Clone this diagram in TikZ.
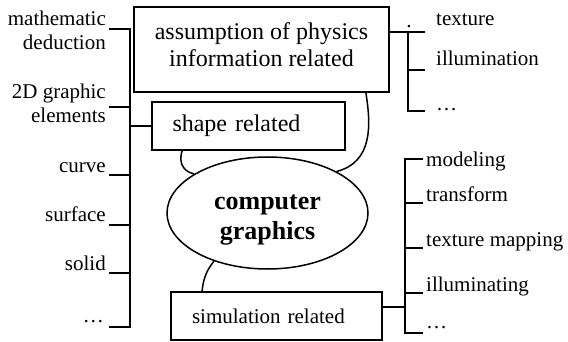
\documentclass[tikz,border=0pt]{standalone}
\usepackage{fontspec}
\setmainfont{Liberation Serif}
\usetikzlibrary{positioning, shapes.geometric}

\begin{document}
\begin{tikzpicture}[
    x=1pt, y=-1pt,
    topicbox/.style={draw=black, line width=1.8pt, rectangle, inner sep=0pt},
    hub/.style={draw=black, line width=1.5pt, ellipse, minimum width=201pt, minimum height=112pt, inner sep=0pt, align=center, text height=58pt, text depth=6pt, font=\fontsize{26}{29}\selectfont\bfseries},
    bracket/.style={line width=1.8pt},
    link/.style={line width=1.5pt},
    itemlabel/.style={inner sep=0pt, font=\fontsize{21}{24}\selectfont}
]
\useasboundingbox (0,0) rectangle (568,342);

% Knoten
\node[topicbox, minimum width=255pt, minimum height=85pt, align=center, text depth=10pt, font=\fontsize{24}{27}\selectfont] (phys) at (261.5,49.5) {assumption of physics\\information related};
\node[topicbox, minimum width=193pt, minimum height=48pt, text width=152pt, inner xsep=20.5pt, align=left, font=\fontsize{24}{27}\selectfont] (shape) at (248.5,126) {shape related};
\node[hub] (cg) at (267.5,213) {computer\\graphics};
\node[topicbox, minimum width=211pt, minimum height=48pt, text width=169pt, inner xsep=21pt, align=left, font=\fontsize{21}{24}\selectfont] (sim) at (276.5,316) {simulation related};

% Klammer links
\foreach \y [count=\i] in {29,107,175,225,273,327} {
    \coordinate (lt\i) at (109,\y);
    \coordinate (ls\i) at (130,\y);
}
\draw[bracket] (lt1) -- (ls1) -- (ls6) -- (lt6);
\foreach \i in {2,...,5} \draw[bracket] (lt\i) -- (ls\i);
\draw[bracket] (ls1 |- shape.west) -- (shape.west);

\node[itemlabel, anchor=base east, align=right] (math) at (106,50) {mathematic\\deduction};
\node[itemlabel, anchor=base east, align=right] (elem) at (106,123) {2D graphic\\elements};
\node[itemlabel, anchor=base east] (curve) at (106,173) {curve};
\node[itemlabel, anchor=base east] (surf) at (106,222) {surface};
\node[itemlabel, anchor=base east] (solid) at (106,270) {solid};
\node[itemlabel, anchor=base east] (lmore) at (104,322) {\dots};

% Klammer rechts oben
\foreach \y [count=\i] in {32,70,111} {
    \coordinate (rs\i) at (408,\y);
    \coordinate (rt\i) at (425,\y);
}
\draw[bracket] (phys.east |- rs1) -- (rt1);
\draw[bracket] (rs1) -- (rs3) -- (rt3);
\draw[bracket] (rs2) -- (rt2);

\node[itemlabel, anchor=base] (stray) at (409,28) {.};
\node[itemlabel, anchor=base west] (tex) at (436,26) {texture};
\node[itemlabel, anchor=base west] (illum) at (436,66) {illumination};
\node[itemlabel, anchor=base west] (rmore) at (436,111) {\dots};

% Klammer rechts unten
\foreach \y [count=\i] in {159,203,248,293,333} {
    \coordinate (qs\i) at (405,\y);
    \coordinate (qt\i) at (423,\y);
}
\coordinate (qj) at (405,307);
\draw[bracket] (qt1) -- (qs1) -- (qs5) -- (qt5);
\foreach \i in {2,3,4} \draw[bracket] (qs\i) -- (qt\i);
\draw[bracket] (sim.east |- qj) -- (qj);

\node[itemlabel, anchor=base west] (model) at (426,167) {modeling};
\node[itemlabel, anchor=base west] (trans) at (426,201) {transform};
\node[itemlabel, anchor=base west] (tmap) at (426,246) {texture mapping};
\node[itemlabel, anchor=base west] (illing) at (426,291) {illuminating};
\node[itemlabel, anchor=base west] (qmore) at (426,328) {\dots};

% Kanten zwischen Knoten
\draw[link] ([xshift=31pt]shape.south west) .. controls (179,160) and (181,171) .. (cg.152);
\draw[link] ([xshift=-24pt]phys.south east) .. controls (371,125) and (373,162) .. (cg.31);
\draw[link] (cg.222) .. controls (205,272) and (203,282) .. ([xshift=32pt]sim.north west);

\end{tikzpicture}
\end{document}
